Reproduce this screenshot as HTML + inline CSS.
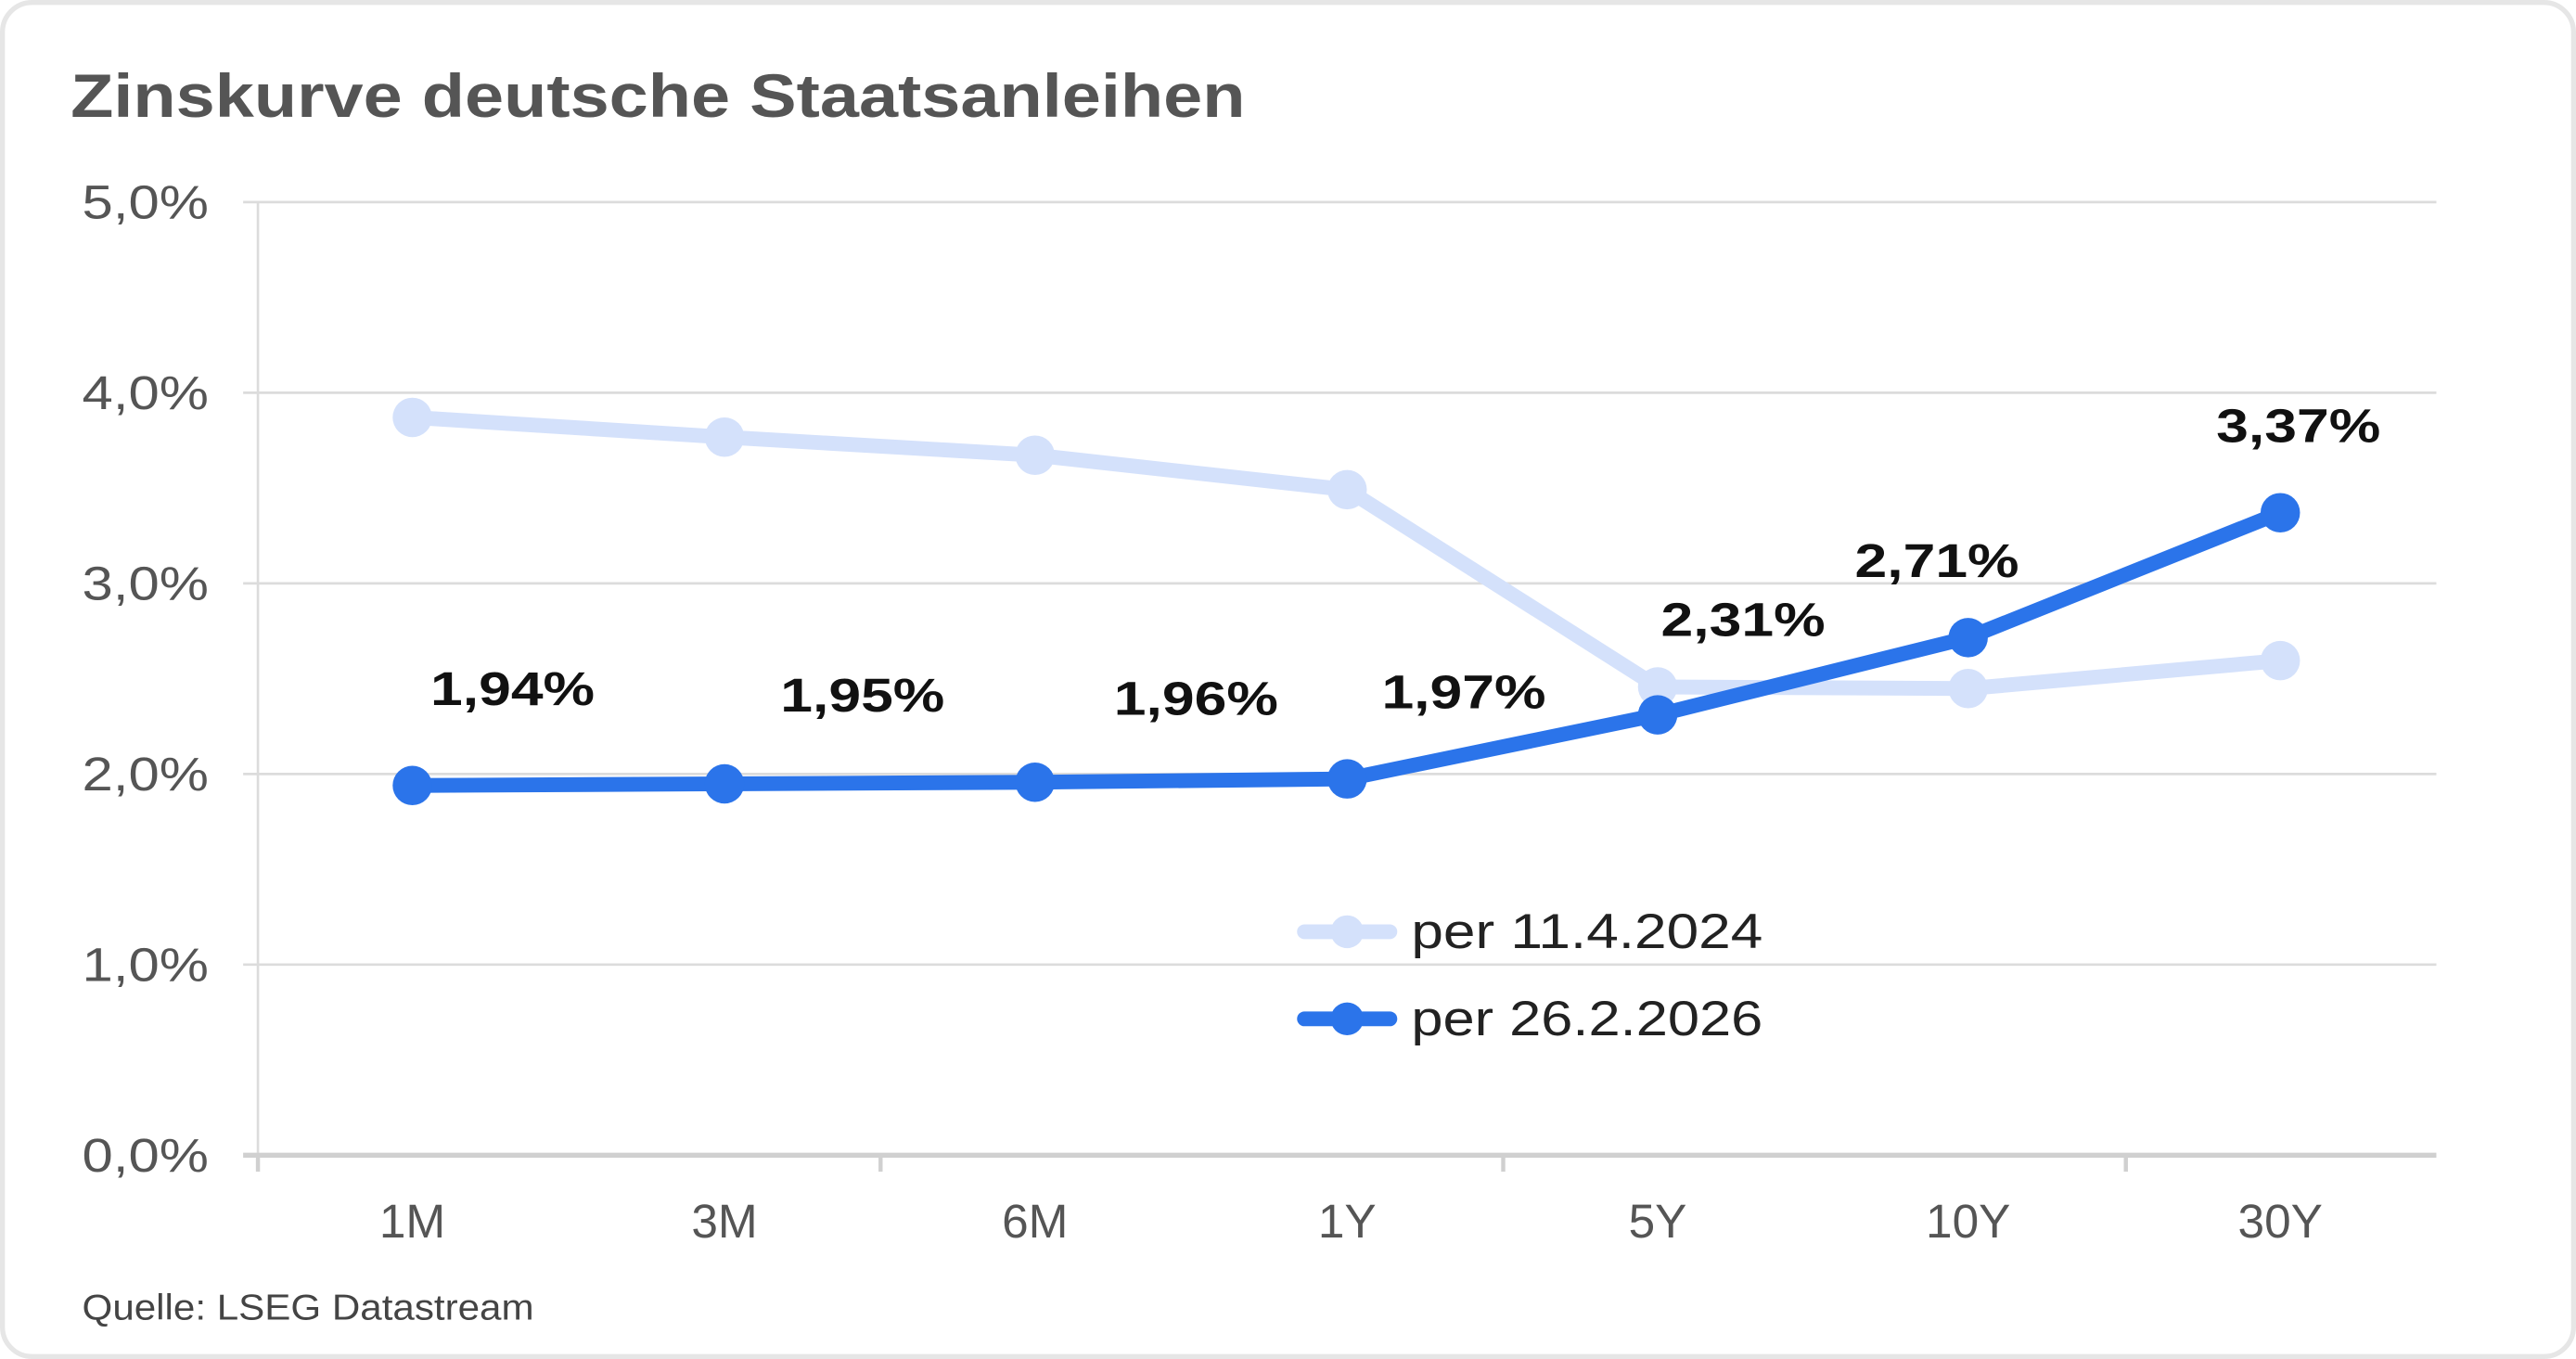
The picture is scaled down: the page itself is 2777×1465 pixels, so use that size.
<!DOCTYPE html>
<html><head><meta charset="utf-8"><style>
html,body{margin:0;padding:0;background:#fff}
svg{display:block}
text{font-family:"Liberation Sans",sans-serif}
</style></head><body>
<svg width="2777" height="1465" viewBox="0 0 1568 827" preserveAspectRatio="none">
<rect x="1.5" y="1.5" width="1565" height="824" rx="18" fill="#fff" stroke="#e6e6e6" stroke-width="3"/>
<text x="43" y="71" font-size="37" font-weight="bold" fill="#555" textLength="715" lengthAdjust="spacingAndGlyphs">Zinskurve deutsche Staatsanleihen</text>
<g stroke="#dcdcdc" stroke-width="1.5">
<line x1="148" y1="123" x2="1483" y2="123"/><line x1="148" y1="239" x2="1483" y2="239"/>
<line x1="148" y1="355" x2="1483" y2="355"/><line x1="148" y1="471" x2="1483" y2="471"/>
<line x1="148" y1="587" x2="1483" y2="587"/>
<line x1="157" y1="123" x2="157" y2="703"/>
</g>
<line x1="148" y1="703" x2="1483" y2="703" stroke="#d0d0d0" stroke-width="3"/>
<g stroke="#d0d0d0" stroke-width="2.5">
<line x1="157" y1="703" x2="157" y2="713"/><line x1="536" y1="703" x2="536" y2="713"/>
<line x1="915" y1="703" x2="915" y2="713"/><line x1="1294" y1="703" x2="1294" y2="713"/>
</g>
<g font-size="29" fill="#555">
<text x="50" y="133" textLength="77" lengthAdjust="spacingAndGlyphs">5,0%</text>
<text x="50" y="249" textLength="77" lengthAdjust="spacingAndGlyphs">4,0%</text>
<text x="50" y="365" textLength="77" lengthAdjust="spacingAndGlyphs">3,0%</text>
<text x="50" y="481" textLength="77" lengthAdjust="spacingAndGlyphs">2,0%</text>
<text x="50" y="597" textLength="77" lengthAdjust="spacingAndGlyphs">1,0%</text>
<text x="50" y="713" textLength="77" lengthAdjust="spacingAndGlyphs">0,0%</text>
</g>
<g font-size="29" fill="#555" text-anchor="middle">
<text x="251" y="753">1M</text><text x="441" y="753">3M</text><text x="630" y="753">6M</text>
<text x="820" y="753">1Y</text><text x="1009" y="753">5Y</text><text x="1198" y="753">10Y</text><text x="1388" y="753">30Y</text>
</g>
<polyline fill="none" stroke="#d4e1fb" stroke-width="9" stroke-linejoin="round" points="251,254 441,266 630,277 820,298 1009,418 1198,419 1388,402"/>
<g fill="#d4e1fb"><circle cx="251" cy="254" r="12"/><circle cx="441" cy="266" r="12"/><circle cx="630" cy="277" r="12"/><circle cx="820" cy="298" r="12"/><circle cx="1009" cy="418" r="12"/><circle cx="1198" cy="419" r="12"/><circle cx="1388" cy="402" r="12"/></g>
<polyline fill="none" stroke="#2b74ea" stroke-width="9" stroke-linejoin="round" points="251,478 441,477 630,476 820,474 1009,435 1198,388 1388,312"/>
<g fill="#2b74ea"><circle cx="251" cy="478" r="12"/><circle cx="441" cy="477" r="12"/><circle cx="630" cy="476" r="12"/><circle cx="820" cy="474" r="12"/><circle cx="1009" cy="435" r="12"/><circle cx="1198" cy="388" r="12"/><circle cx="1388" cy="312" r="12"/></g>
<g font-size="29" font-weight="bold" fill="#111">
<text x="262" y="429" textLength="100" lengthAdjust="spacingAndGlyphs">1,94%</text>
<text x="475" y="433" textLength="100" lengthAdjust="spacingAndGlyphs">1,95%</text>
<text x="678" y="435" textLength="100" lengthAdjust="spacingAndGlyphs">1,96%</text>
<text x="841" y="431" textLength="100" lengthAdjust="spacingAndGlyphs">1,97%</text>
<text x="1011" y="387" textLength="100" lengthAdjust="spacingAndGlyphs">2,31%</text>
<text x="1129" y="351" textLength="100" lengthAdjust="spacingAndGlyphs">2,71%</text>
<text x="1349" y="269" textLength="100" lengthAdjust="spacingAndGlyphs">3,37%</text>
</g>
<line x1="794" y1="567" x2="846" y2="567" stroke="#d4e1fb" stroke-width="9" stroke-linecap="round"/>
<circle cx="820" cy="567" r="10" fill="#d4e1fb"/>
<line x1="794" y1="620" x2="846" y2="620" stroke="#2b74ea" stroke-width="9" stroke-linecap="round"/>
<circle cx="820" cy="620" r="10" fill="#2b74ea"/>
<g font-size="30" fill="#222">
<text x="859" y="577" textLength="214" lengthAdjust="spacingAndGlyphs">per 11.4.2024</text>
<text x="859" y="630" textLength="214" lengthAdjust="spacingAndGlyphs">per 26.2.2026</text>
</g>
<text x="50" y="803" font-size="22" fill="#444" textLength="275" lengthAdjust="spacingAndGlyphs">Quelle: LSEG Datastream</text>
</svg>
</body></html>
